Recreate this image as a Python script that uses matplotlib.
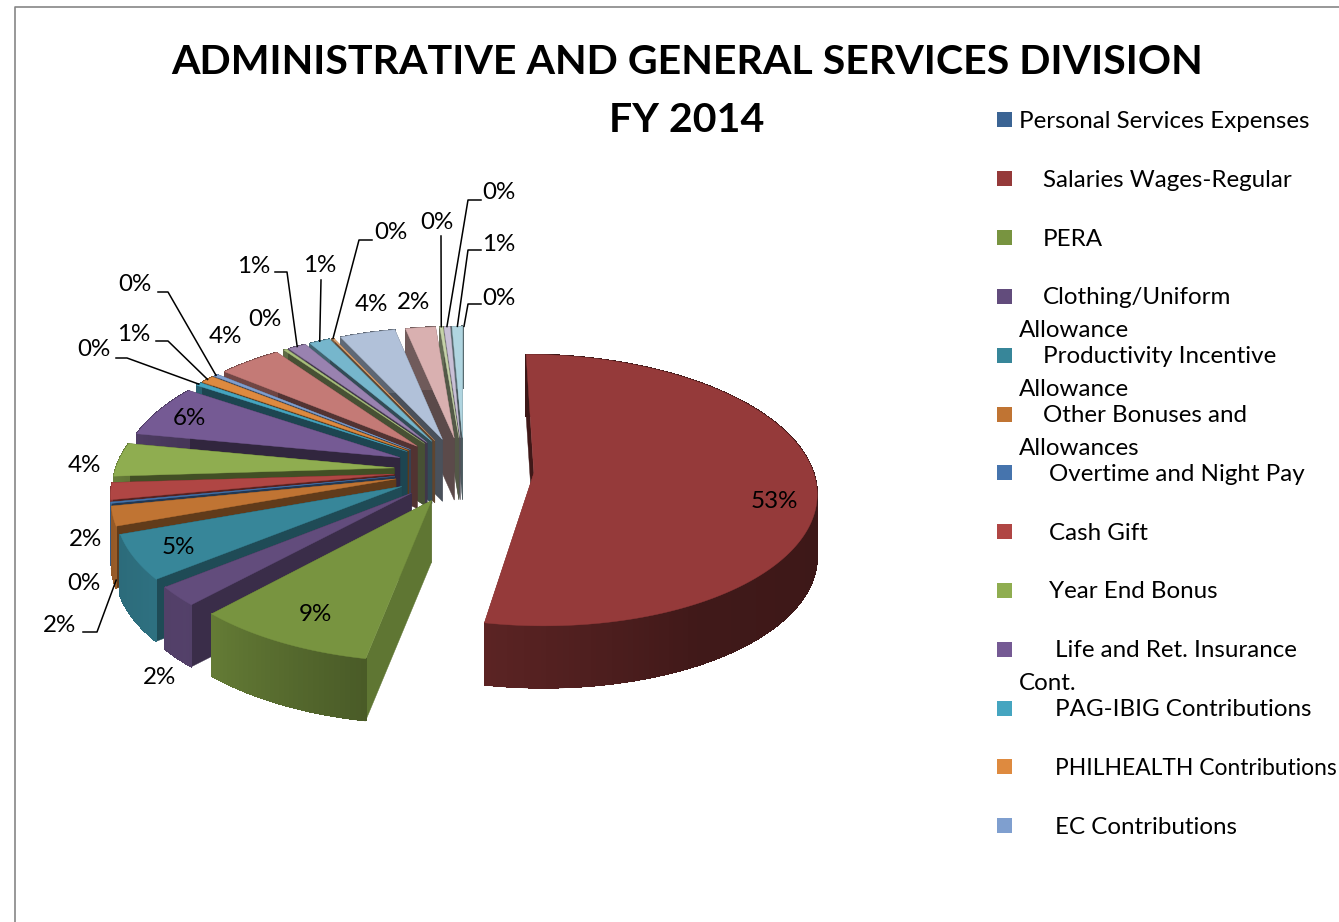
import numpy as np
import matplotlib
matplotlib.use('Agg')
import matplotlib.pyplot as plt
from matplotlib.patches import Polygon, Rectangle

plt.rcParams['font.family'] = ['Lato', 'DejaVu Sans']

# Share of the division budget per expense item, in percent
shares = [0.0, 53.0, 9.0, 2.3, 5.3, 2.3, 0.15, 2.0, 4.0, 6.3, 0.4, 0.9, 0.3,
          4.2, 0.2, 1.2, 1.4, 0.1, 3.7, 2.0, 0.2, 0.4, 0.7, 0.0]
colors = ['#3B6494', '#953A3A', '#789440', '#624C7C', '#378699', '#C07433',
          '#4674AD', '#B04644', '#8FAD50', '#755A94', '#45A5C0', '#DE8A3F',
          '#7F9FCF', '#C47A76', '#A9BF7C', '#9982B0', '#76B6CC', '#E3A56F',
          '#B1C1D9', '#D9B0B0', '#C5D2A8', '#C9C0D6', '#B0D5E0', '#F0C8A0']

# Title, legend layout
title_lines = ['ADMINISTRATIVE AND GENERAL SERVICES DIVISION', 'FY 2014']
legend_rows = [
    ('Personal Services Expenses', '', 1019),
    ('Salaries Wages-Regular', '', 1043),
    ('PERA', '', 1043),
    ('Clothing/Uniform', 'Allowance', 1043),
    ('Productivity Incentive', 'Allowance', 1043),
    ('Other Bonuses and', 'Allowances', 1043),
    ('Overtime and Night Pay', '', 1049),
    ('Cash Gift', '', 1049),
    ('Year End Bonus', '', 1049),
    ('Life and Ret. Insurance', 'Cont.', 1055),
    ('PAG-IBIG Contributions', '', 1055),
    ('PHILHEALTH Contributions', '', 1055),
    ('EC Contributions', '', 1055),
]

# Label centres by slice index, with optional leader elbow points
label_pos = {
    1: (774, 500), 2: (315, 613), 3: (159, 676), 4: (178, 546), 5: (60, 624),
    6: (84, 582), 7: (85, 538), 8: (84, 464), 9: (189, 417), 10: (94, 348),
    11: (134, 333), 12: (135, 283), 13: (225, 335), 14: (265, 318),
    15: (254, 265), 16: (320, 264), 17: (391, 231), 18: (371, 303),
    19: (413, 301), 20: (437, 221), 21: (499, 191), 22: (499, 243), 23: (499, 297),
}
leaders = {
    5: [(83, 632), (97, 632)],
    10: [(116, 358), (127, 358)],
    11: [(156, 341), (168, 341)],
    12: [(158, 292), (168, 292)],
    15: [(275, 272), (287, 272)],
    16: [(321, 280)],
    17: [(372, 240), (359, 240)],
    20: [(441, 236)],
    21: [(481, 200), (468, 200)],
    22: [(481, 250), (468, 250)],
    23: [(481, 304), (468, 304)],
}

# Pie geometry, in pixels
CX, CY = 464, 470
RADIUS = 279
EXPLODE = 70
TILT = 0.476
PERSP = 0.125
DEPTH = 62


def project(x, y):
    s = 1 / (1 + PERSP * y / RADIUS)
    return CX + x * s, CY - TILT * y * s


def shade(color, k):
    rgb = np.array(matplotlib.colors.to_rgb(color))
    return tuple(rgb * k)


def rim_point(theta, mid):
    x = EXPLODE * np.sin(mid) + RADIUS * np.sin(theta)
    y = EXPLODE * np.cos(mid) + RADIUS * np.cos(theta)
    return x, y


def wall_shade(deg):
    return np.interp(deg, [90, 150, 190, 225, 250, 300, 360],
                     [0.4, 0.43, 0.61, 0.85, 0.8, 0.6, 0.5])


def cut_shade(deg):
    return np.interp(deg, [0, 190, 225, 280, 360], [0.42, 0.8, 0.58, 0.42, 0.42])


fig = plt.figure(figsize=(13.39, 9.22), dpi=100)
ax = fig.add_axes([0, 0, 1, 1])
ax.set_xlim(0, 1339)
ax.set_ylim(922, 0)
ax.axis('off')

# Chart frame
ax.plot([15, 15, 1339], [922, 7.5, 7.5], color='#868686', lw=1.2)

# Slice angles, clockwise from twelve o'clock
values = np.array(shares)
edges = np.concatenate([[0], np.cumsum(values)]) / values.sum() * 2 * np.pi
mids = (edges[:-1] + edges[1:]) / 2

# Far slices are painted first so nearer ones cover them
apex_depth = EXPLODE * np.cos(mids)
order = np.argsort(-apex_depth)

for i in order:
    if values[i] == 0:
        continue
    a0, a1, mid = edges[i], edges[i + 1], mids[i]
    ax_, ay_ = project(EXPLODE * np.sin(mid), EXPLODE * np.cos(mid))
    thetas = np.linspace(a0, a1, max(3, int(np.degrees(a1 - a0)) + 2))
    top = []
    low = []
    for t in thetas:
        px, py = project(*rim_point(t, mid))
        top.append((px, py))
        low.append((px, py + DEPTH))
    apex_low = (ax_, ay_ + DEPTH)

    # Cut faces, the one turned to the viewer goes last
    cut_order = (-1, 0) if mid > np.pi else (0, -1)
    for k in cut_order:
        c = shade(colors[i], cut_shade(np.degrees(thetas[k])))
        ax.add_patch(Polygon([(ax_, ay_), top[k], low[k], apex_low], closed=True,
                             facecolor=c, edgecolor=c, lw=0.3))
    # Outer wall in strips, shading runs along the rim; no antialiasing or the joins show
    for j in range(len(thetas) - 1):
        c = shade(colors[i], wall_shade(np.degrees(thetas[j])))
        ax.add_patch(Polygon([top[j], top[j + 1], low[j + 1], low[j]], closed=True,
                             facecolor=c, edgecolor=c, lw=0.5, antialiased=False))
        # smooth bottom edge, a patch too so it stays in paint order
        ax.add_patch(Polygon([low[j], low[j + 1]], closed=False, fill=False,
                             edgecolor=c, lw=0.8))
    # Top face
    ax.add_patch(Polygon([(ax_, ay_)] + top, closed=True, facecolor=colors[i],
                         edgecolor=colors[i], lw=0.3))

# Data labels and leader lines
for i, (lx, ly) in label_pos.items():
    ax.text(lx, ly + 1.5, f'{round(values[i] / values.sum() * 100)}%', ha='center',
            va='center', fontsize=17.4, color='black')
    if i in leaders:
        if i == 5:
            # this one points at the visible bit of the wall
            px, py = project(*rim_point(edges[i], mids[i]))
            py += DEPTH - 8
        else:
            px, py = project(*rim_point(mids[i], mids[i]))
        pts = leaders[i] + [(px, py)]
        ax.plot([p[0] for p in pts], [p[1] for p in pts], color='black', lw=1.1)

# Title
ax.text(687, 62.5, title_lines[0], ha='center', va='center', fontsize=29.6,
        fontweight='bold', color='black')
ax.text(687, 120.5, title_lines[1], ha='center', va='center', fontsize=29.6,
        fontweight='bold', color='black')

# Legend
for i, (first, second, tx) in enumerate(legend_rows):
    y = 120 + 58.8 * i
    size = 16.4 if first.startswith('PHILHEALTH') else 17.4
    ax.add_patch(Rectangle((997, y - 7.5), 15, 15, facecolor=colors[i], edgecolor='none'))
    ax.text(tx, y + 1.5, first, ha='left', va='center', fontsize=size, color='black')
    if second:
        ax.text(1019, y + 34, second, ha='left', va='center', fontsize=size, color='black')

fig.savefig('out.png', dpi=100)
